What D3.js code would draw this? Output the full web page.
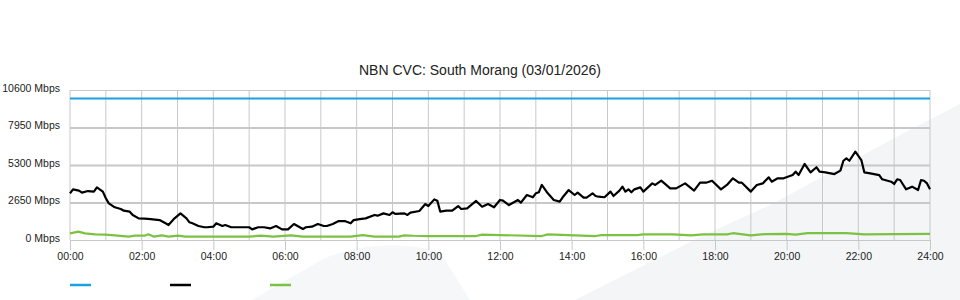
<!DOCTYPE html>
<html>
<head>
<meta charset="utf-8">
<script src="https://cdn.jsdelivr.net/npm/d3@7/dist/d3.min.js"></script>
<style>
  body { margin: 0; background: #fff; }
  svg { display: block; font-family: "Liberation Sans", Arial, sans-serif; }
</style>
</head>
<body>
<div id="container"></div>
<script>
var title = "NBN CVC: South Morang (03/01/2026)"

var yTicks = [0, 2650, 5300, 7950, 10600]
var xTicks = [0, 120, 240, 360, 480, 600, 720, 840, 960, 1080, 1200, 1320, 1440]
var xTickLabels = ["00:00", "02:00", "04:00", "06:00", "08:00", "10:00", "12:00",
                   "14:00", "16:00", "18:00", "20:00", "22:00", "24:00"]

// capacity (minutes, Mbps)
var capacity = [[0, 10000], [1440, 10000]]

// traffic (minutes, Mbps)
var trafficMin = [0, 5, 15, 20, 30, 40, 45, 55, 60, 65, 75, 85, 90, 100, 105, 115, 125, 135, 150, 160,
  165, 175, 185, 195, 200, 205, 215, 225, 230, 240, 245, 255, 260, 270, 285, 300, 305, 315, 325, 335,
  345, 355, 365, 375, 390, 395, 405, 415, 425, 430, 440, 450, 460, 470, 475, 485, 495, 510, 515, 525,
  535, 540, 545, 560, 565, 570, 585, 595, 600, 610, 615, 620, 630, 640, 650, 655, 665, 680, 690, 700,
  710, 720, 725, 735, 750, 755, 765, 775, 780, 785, 790, 800, 810, 820, 825, 835, 845, 850, 860, 865,
  875, 880, 885, 895, 905, 910, 920, 925, 930, 935, 940, 945, 955, 960, 975, 980, 990, 1005, 1015, 1030,
  1045, 1055, 1065, 1075, 1090, 1100, 1110, 1120, 1125, 1140, 1150, 1160, 1170, 1175, 1185, 1195, 1210, 1215, 1220, 1230,
  1240, 1250, 1255, 1265, 1280, 1290, 1295, 1300, 1305, 1315, 1325, 1330, 1340, 1355, 1360, 1375, 1380, 1385, 1390, 1400,
  1410, 1420, 1425, 1430, 1435, 1440]
var trafficVal = [3300, 3580, 3490, 3350, 3460, 3420, 3720, 3420, 2950, 2590, 2310, 2190, 2070, 2000, 1770, 1530, 1510, 1480, 1410, 1180,
  1060, 1530, 1880, 1530, 1250, 1180, 990, 900, 900, 940, 1180, 990, 1060, 900, 900, 900, 750, 900, 900, 820,
  990, 750, 750, 1130, 780, 900, 940, 1130, 990, 990, 1130, 1340, 1340, 1180, 1410, 1480, 1530, 1770, 1720, 1880,
  1770, 1960, 1840, 1880, 1770, 1930, 2050, 2540, 2400, 2870, 2780, 2000, 2070, 2070, 2400, 2190, 2240, 2760, 2350, 2540,
  2310, 2830, 2780, 2470, 2830, 2640, 3180, 3020, 3300, 3370, 3890, 3300, 2830, 2710, 3020, 3530, 3180, 3350, 2990, 3000,
  3300, 3110, 3060, 3020, 3420, 3110, 3490, 3770, 3420, 3580, 3370, 3580, 3720, 3420, 4000, 3890, 4190, 3650, 3650, 4000,
  3490, 4050, 4050, 4190, 3580, 3890, 4360, 4050, 4050, 3420, 3890, 4000, 4430, 4120, 4360, 4360, 4590, 4830, 4590, 5370,
  4780, 5140, 4830, 4780, 4660, 4900, 5600, 5770, 5600, 6240, 5650, 4780, 4710, 4590, 4290, 4120, 3960, 4290, 4240, 3580,
  3770, 3530, 4240, 4190, 4000, 3580]

// third series (minutes, Mbps)
var lowMin = [0, 14, 25, 42, 59, 75, 98, 109, 126, 131, 140, 154, 165, 181, 193, 270, 300, 320, 340, 370,
  390, 470, 490, 510, 550, 560, 575, 600, 680, 690, 790, 800, 880, 890, 950, 960, 1010, 1040, 1060, 1100,
  1110, 1140, 1165, 1200, 1215, 1235, 1300, 1330, 1380, 1440]
var lowVal = [470, 590, 470, 400, 380, 330, 240, 310, 310, 400, 240, 330, 240, 310, 240, 240, 240, 310, 240, 330,
  240, 240, 350, 240, 240, 330, 300, 280, 280, 380, 280, 400, 280, 350, 350, 400, 400, 330, 400, 400,
  480, 330, 420, 430, 380, 490, 490, 400, 420, 430]

var legendColors = ["#1ba1e2", "#000000", "#7cc242"]

var svg = d3.select("#container").append("svg")
    .attr("width", 960)
    .attr("height", 300)

// faint background watermark
svg.append("path")
    .attr("fill", "#f4f5f7")
    .attr("d", "M575,300 L700,237 L770,205 L900,135 L960,104 L960,300 Z")
svg.append("path")
    .attr("fill", "#f6f7f9")
    .attr("d", "M252,300 L325,258 Q380,236 440,252 L470,300 Z")

var x = d3.scaleLinear().domain([0, 1440]).range([70, 930])
var y = d3.scaleLinear().domain([0, 10600]).range([240, 90])

svg.append("text")
    .attr("x", 480)
    .attr("y", 75)
    .attr("text-anchor", "middle")
    .attr("font-size", "14px")
    .attr("fill", "#222")
    .text(title)

// hourly vertical grid
svg.append("g")
  .selectAll("line")
  .data(d3.range(0, 1441, 60))
  .join("line")
    .attr("x1", d => x(d))
    .attr("x2", d => x(d))
    .attr("y1", 90)
    .attr("y2", 240)
    .attr("stroke", "#c8c8c8")
    .attr("stroke-width", 1)

// y axis with horizontal grid
var yAxis = svg.append("g")
    .attr("transform", "translate(70,0)")
    .call(d3.axisLeft(y).tickValues(yTicks).tickSize(-860).tickPadding(10)
      .tickFormat(d => d + " Mbps"))
yAxis.select(".domain").remove()
yAxis.selectAll(".tick line")
    .attr("stroke", "#c8c8c8")
    .attr("stroke-width", d => (d == 0 || d == 10600) ? 1 : 2)
yAxis.selectAll(".tick text")
    .attr("font-size", "10.5px")
    .attr("fill", "#222")
    .attr("dy", "0.1em")

// x axis
var xAxis = svg.append("g")
    .attr("transform", "translate(0,240)")
    .call(d3.axisBottom(x).tickValues(xTicks).tickSize(10).tickPadding(3)
      .tickFormat((d, i) => xTickLabels[i]))
xAxis.select(".domain").remove()
xAxis.selectAll(".tick line").attr("stroke", "#c8c8c8")
xAxis.selectAll(".tick text")
    .attr("font-size", "10.5px")
    .attr("fill", "#222")

var line = d3.line().x(d => x(d[0])).y(d => y(d[1]))

svg.append("path")
    .datum(capacity)
    .attr("fill", "none")
    .attr("stroke", legendColors[0])
    .attr("stroke-width", 2)
    .attr("d", line)

svg.append("path")
    .datum(lowMin.map((m, i) => [m, lowVal[i]]))
    .attr("fill", "none")
    .attr("stroke", legendColors[2])
    .attr("stroke-width", 2.2)
    .attr("stroke-linejoin", "round")
    .attr("d", line)

svg.append("path")
    .datum(trafficMin.map((m, i) => [m, trafficVal[i]]))
    .attr("fill", "none")
    .attr("stroke", legendColors[1])
    .attr("stroke-width", 2.2)
    .attr("stroke-linejoin", "round")
    .attr("d", line)

// legend (swatches only)
svg.append("g")
  .selectAll("line")
  .data(legendColors)
  .join("line")
    .attr("x1", (d, i) => 70 + i * 100)
    .attr("x2", (d, i) => 91 + i * 100)
    .attr("y1", 285)
    .attr("y2", 285)
    .attr("stroke", d => d)
    .attr("stroke-width", 2.5)
</script>
</body>
</html>
